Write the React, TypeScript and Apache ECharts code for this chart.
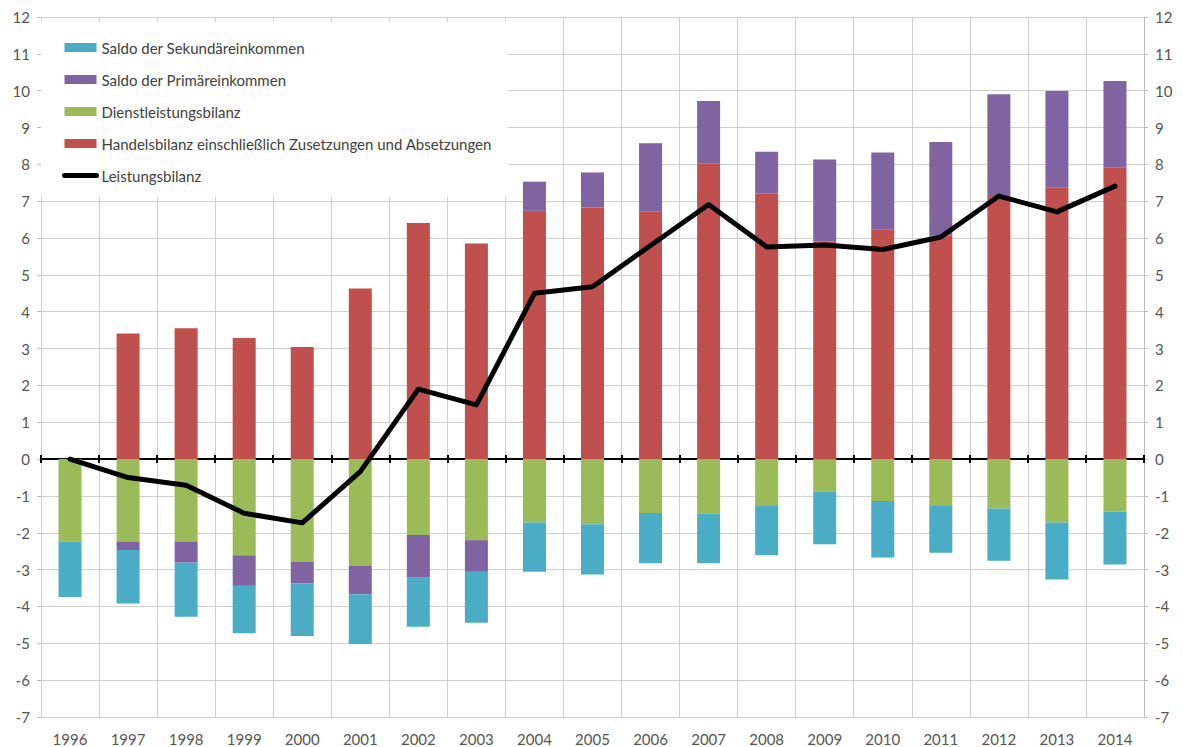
import React, { useEffect, useRef } from "react";
import * as echarts from "echarts";

const years = ["1996","1997","1998","1999","2000","2001","2002","2003","2004","2005","2006","2007","2008","2009","2010","2011","2012","2013","2014"];

const handelsbilanz = [0, 3.41, 3.55, 3.29, 3.04, 4.63, 6.41, 5.85, 6.74, 6.83, 6.73, 8.03, 7.21, 5.90, 6.24, 6.07, 7.17, 7.38, 7.92];
const primaer = [0, -0.23, -0.57, -0.83, -0.59, -0.77, -1.16, -0.86, 0.79, 0.95, 1.84, 1.69, 1.13, 2.23, 2.08, 2.54, 2.73, 2.61, 2.34];
const dienstleistung = [-2.24, -2.24, -2.24, -2.61, -2.79, -2.90, -2.06, -2.20, -1.72, -1.77, -1.46, -1.48, -1.27, -0.89, -1.14, -1.27, -1.34, -1.72, -1.43];
const sekundaer = [-1.50, -1.45, -1.47, -1.29, -1.42, -1.35, -1.33, -1.38, -1.34, -1.36, -1.37, -1.35, -1.34, -1.42, -1.53, -1.27, -1.42, -1.55, -1.43];
const leistungsbilanz = [0, -0.50, -0.71, -1.47, -1.73, -0.34, 1.90, 1.47, 4.50, 4.68, 5.80, 6.91, 5.76, 5.81, 5.69, 6.03, 7.14, 6.71, 7.41];

const names = {
  sek: "Saldo der Sekundäreinkommen",
  prim: "Saldo der Primäreinkommen",
  dienst: "Dienstleistungsbilanz",
  handel: "Handelsbilanz einschließlich Zusetzungen und Absetzungen",
  leist: "Leistungsbilanz",
};

const FONT = "Lato";

export default function App() {
  const ref = useRef<HTMLDivElement>(null);
  useEffect(() => {
    if (!ref.current) return;
    const chart = echarts.init(ref.current, undefined, { renderer: "svg" });
    const gridColor = "#cfcfcf";
    const yAxisBase = {
      type: "value",
      min: -7,
      max: 12,
      interval: 1,
      axisLine: { show: false },
      axisTick: { show: true, length: 4, lineStyle: { color: "#bdbdbd" } },
      axisLabel: { fontSize: 15, color: "#555", fontFamily: FONT, margin: 11 },
    };
    chart.setOption({
      animation: false,
      backgroundColor: "#fff",
      textStyle: { fontFamily: FONT },
      grid: { left: 41, right: 39, top: 17, bottom: 30, containLabel: false },
      legend: {
        orient: "vertical",
        left: 41,
        top: 22,
        backgroundColor: "#fff",
        padding: [18, 16, 14, 21],
        itemWidth: 32,
        itemHeight: 9,
        itemGap: 17,
        textStyle: { fontSize: 15, lineHeight: 15, color: "#404040", fontFamily: FONT },
        data: [
          { name: names.sek, icon: "rect" },
          { name: names.prim, icon: "rect" },
          { name: names.dienst, icon: "rect" },
          { name: names.handel, icon: "rect" },
          { name: names.leist, itemStyle: { opacity: 0 }, lineStyle: { width: 5, color: "#000", cap: "round" } },
        ],
      },
      xAxis: [
        {
          type: "category",
          data: years,
          position: "bottom",
          axisLine: { show: false, onZero: false },
          axisTick: { show: false },
          axisLabel: { fontSize: 15, color: "#555", fontFamily: FONT, margin: 14 },
          splitLine: { show: true, lineStyle: { color: gridColor } },
        },
        {
          type: "category",
          data: years,
          position: "bottom",
          axisLine: { show: true, onZero: true, onZeroAxisIndex: 0, lineStyle: { color: "#000", width: 2 } },
          axisTick: { show: true, length: 4, lineStyle: { color: "#000", width: 2 } },
          axisLabel: { show: false },
          splitLine: { show: false },
        },
        {
          type: "category",
          data: years,
          position: "bottom",
          axisLine: { show: false, onZero: true, onZeroAxisIndex: 0 },
          axisTick: { show: true, inside: true, length: 4, lineStyle: { color: "#000", width: 2 } },
          axisLabel: { show: false },
          splitLine: { show: false },
        },
      ],
      yAxis: [
        {
          ...yAxisBase,
          position: "left",
          splitLine: { show: true, lineStyle: { color: gridColor } },
        },
        {
          ...yAxisBase,
          position: "right",
          splitLine: { show: false },
          axisLine: { show: true, lineStyle: { color: "#bdbdbd" } },
        },
      ],
      series: [
        {
          name: names.handel,
          type: "bar",
          stack: "total",
          barWidth: 23,
          data: handelsbilanz,
          itemStyle: { color: "#C0504D" },
        },
        {
          name: names.dienst,
          type: "bar",
          stack: "total",
          barWidth: 23,
          data: dienstleistung,
          itemStyle: { color: "#9BBB59" },
        },
        {
          name: names.prim,
          type: "bar",
          stack: "total",
          barWidth: 23,
          data: primaer,
          itemStyle: { color: "#8064A2" },
        },
        {
          name: names.sek,
          type: "bar",
          stack: "total",
          barWidth: 23,
          data: sekundaer,
          itemStyle: { color: "#4BACC6" },
        },
        {
          name: names.leist,
          type: "line",
          data: leistungsbilanz,
          symbol: "none",
          z: 10,
          lineStyle: { color: "#000", width: 5, join: "round", cap: "round" },
          itemStyle: { color: "#000" },
        },
      ],
    });
    return () => chart.dispose();
  }, []);
  return (
    <div
      ref={ref}
      style={{ position: "fixed", left: 0, top: 0, width: 1183, height: 747, background: "#fff" }}
    />
  );
}
